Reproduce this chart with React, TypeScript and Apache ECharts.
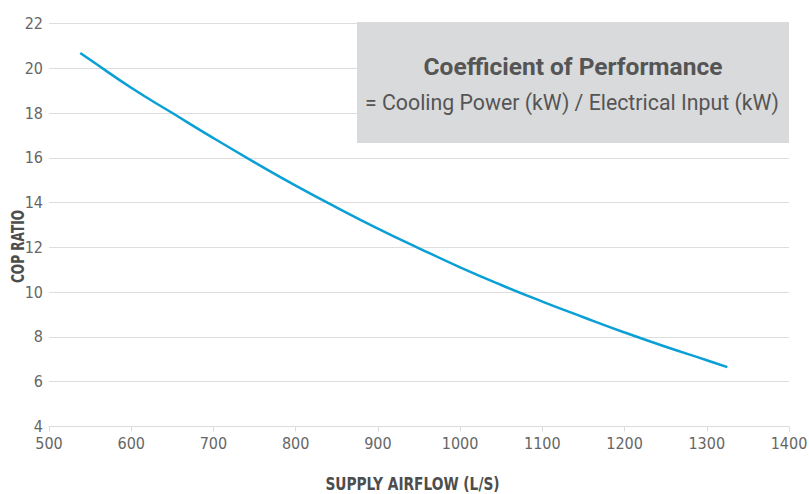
import React, { useEffect, useRef } from "react";
import * as echarts from "echarts";

const airflow: number[] = [538, 550, 600, 650, 700, 750, 800, 850, 900, 950, 1000, 1050, 1100, 1150, 1200, 1250, 1300, 1325];
const cop: number[] = [20.68, 20.38, 19.13, 18.0, 16.88, 15.8, 14.76, 13.78, 12.84, 11.96, 11.11, 10.32, 9.58, 8.88, 8.2, 7.56, 6.96, 6.65];

const xTicks = { min: 500, max: 1400, interval: 100 };
const yTicks = { min: 4, max: 22, interval: 2 };

const boxTitle = "Coefficient of Performance";
const boxSubtitle = "= Cooling Power (kW) / Electrical Input (kW)";
const xName = "SUPPLY AIRFLOW (L/S)";
const yName = "COP RATIO";

const condensed = "'Liberation Sans Narrow', 'DejaVu Sans Condensed', 'Roboto', sans-serif";
const regular = "'Roboto', 'Liberation Sans', sans-serif";

export default function App() {
  const ref = useRef<HTMLDivElement>(null);
  useEffect(() => {
    if (!ref.current) return;
    const chart = echarts.init(ref.current, undefined, { renderer: "svg" });
    chart.setOption({
      animation: false,
      backgroundColor: "#ffffff",
      grid: { left: 49, right: 20, top: 23.5, bottom: 67.5, containLabel: false, outerBoundsMode: "none" },
      xAxis: {
        type: "value",
        min: xTicks.min,
        max: xTicks.max,
        interval: xTicks.interval,
        axisLine: { show: true, lineStyle: { color: "#dcdcdc", width: 1 } },
        axisTick: { show: true, length: 5, lineStyle: { color: "#dcdcdc" } },
        axisLabel: { fontFamily: condensed, fontSize: 16, color: "#666666", margin: 9, formatter: (v: number) => String(v) },
        splitLine: { show: false },
      },
      yAxis: {
        type: "value",
        min: yTicks.min,
        max: yTicks.max,
        interval: yTicks.interval,
        axisLine: { show: false },
        axisTick: { show: false },
        axisLabel: { fontFamily: condensed, fontSize: 16, color: "#666666", margin: 6, formatter: (v: number) => String(v) },
        splitLine: { show: true, lineStyle: { color: "#dedede", width: 1 } },
      },
      graphic: [
        {
          type: "rect",
          shape: { x: 357, y: 22, width: 432, height: 121 },
          style: { fill: "#d9dadb" },
          z: 10,
        },
        {
          type: "text",
          style: {
            text: boxTitle,
            x: 573,
            y: 66.5,
            textAlign: "center",
            textVerticalAlign: "middle",
            font: `bold 24.5px ${regular}`,
            fill: "#555555",
          },
          z: 11,
        },
        {
          type: "text",
          style: {
            text: boxSubtitle,
            x: 572,
            y: 102,
            textAlign: "center",
            textVerticalAlign: "middle",
            font: `21.3px ${regular}`,
            fill: "#555555",
          },
          z: 11,
        },
        {
          type: "text",
          x: 412.5,
          y: 483.5,
          scaleX: 0.85,
          style: {
            text: xName,
            x: 0,
            y: 0,
            textAlign: "center",
            textVerticalAlign: "middle",
            font: `bold 18px ${condensed}`,
            fill: "#4d4d4d",
          },
          z: 11,
        },
        {
          type: "text",
          x: 18,
          y: 246.5,
          rotation: Math.PI / 2,
          scaleX: 0.73,
          style: {
            text: yName,
            x: 0,
            y: 0,
            textAlign: "center",
            textVerticalAlign: "middle",
            font: `bold 18.5px ${condensed}`,
            fill: "#4d4d4d",
          },
          z: 11,
        },
      ],
      series: [
        {
          type: "line",
          data: airflow.map((x, i) => [x, cop[i]]),
          smooth: true,
          showSymbol: false,
          lineStyle: { color: "#0aa0d6", width: 2.5 },
          z: 5,
        },
      ],
    });
    return () => chart.dispose();
  }, []);
  return <div ref={ref} style={{ position: "fixed", left: 0, top: 0, width: 809, height: 494 }} />;
}
